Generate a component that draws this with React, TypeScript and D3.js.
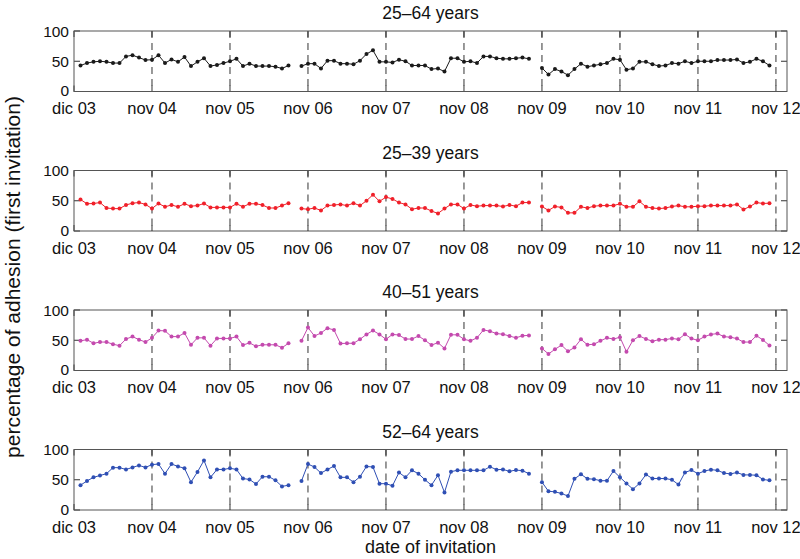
import React, { useEffect, useRef } from "react";
import * as d3 from "d3";

// month index: 0 = "dic 03" tick, data start at index 1; gaps (null) at 34 and 71
const tickLabels = ["dic 03", "nov 04", "nov 05", "nov 06", "nov 07", "nov 08", "nov 09", "nov 10", "nov 11", "nov 12"];
const tickIndex = [0, 12, 24, 36, 48, 60, 72, 84, 96, 108];
const dashedIndex = [12, 24, 36, 48, 60, 72, 84, 96, 108];
const yTicks = [0, 50, 100];

const titles = ["25\u201364 years", "25\u201339 years", "40\u201351 years", "52\u201364 years"];
const colors = ["#1a1a1a", "#f0202a", "#c44aae", "#2f4fb4"];

const seg = (a: number[], b: number[], c: number[]) => [...a, null, ...b, null, ...c];

const s1 = seg(
  [43, 47, 49, 50, 49, 47, 47, 58, 60, 56, 52, 52.5, 60, 47, 53, 49, 57, 42, 49, 55, 42, 44, 47, 50, 54, 42, 46, 42, 42, 42, 41, 38, 43],
  [42, 46, 46, 38, 51, 51, 46, 46, 45, 51, 62, 68, 49, 49, 48, 52.5, 50, 43, 43, 43, 37, 38, 33, 55, 55, 49, 50, 47, 58, 58, 55, 54, 54, 55, 56, 54],
  [39, 28, 37, 33, 27, 37, 46, 41, 43, 45, 47, 54, 52.5, 36, 38, 49, 49, 45, 42, 43, 47, 46, 50, 47, 50, 50, 50, 52, 52, 52, 53, 47, 49, 54, 50, 43]
);
const s2 = seg(
  [52, 45, 45.5, 47, 38, 37, 37, 43, 46, 47, 44, 37, 45.5, 40, 43, 40, 45, 41, 42, 45.5, 39, 39, 39, 39, 45, 40, 45, 45, 43, 38, 38, 42, 46],
  [37, 36, 38, 34, 42, 43, 44, 42, 46, 42, 50, 60, 49, 56, 53, 47, 44, 36, 38, 38, 33, 29, 37, 44, 44, 37, 43, 41, 42, 42, 42, 40.5, 43, 41, 47, 47],
  [40.5, 34, 40.5, 39, 30, 30, 40, 38, 41, 42, 42, 42, 45, 40, 40, 49, 40, 38, 37, 38, 40.5, 42, 40, 40, 41, 41, 42, 42, 42, 42, 44, 35.5, 40.5, 47, 45.5, 46]
);
const s3 = seg(
  [49, 51, 45, 47, 47, 43.5, 41, 52, 56, 51, 47, 54, 66, 65.5, 56, 56, 62, 42.5, 54, 54, 41, 53, 53, 53, 56, 42, 45.7, 40, 42.5, 42.5, 42.5, 37.6, 45],
  [49, 71, 57, 62, 70, 67, 44.6, 45, 45, 51.6, 59.7, 66, 59.7, 51.6, 59.7, 58.6, 52, 52, 57, 50, 42, 46, 36.5, 59, 59, 51.6, 49, 54, 67, 65, 61, 60, 57, 54, 57.5, 58],
  [36.5, 27.4, 35, 42, 31.7, 38, 51.6, 42.5, 43.5, 49, 54, 52, 55, 31, 50, 57, 52, 48.4, 51, 51, 53, 51.6, 60, 52.7, 50, 56, 59.7, 61, 56, 55, 52.7, 47, 47, 57.5, 50.5, 41.4]
);
const s4 = seg(
  [41, 48, 54, 57, 60, 70, 70, 67, 70.4, 73.7, 70.4, 75, 76, 60, 76, 72, 69, 46, 63, 82, 54, 67, 67, 69, 67, 52, 50.5, 43, 55, 55, 49, 39, 41],
  [48, 76, 71, 61, 67, 72.6, 54, 54, 46, 55, 72, 71, 43.5, 43.5, 40, 62, 54, 65.6, 60, 50, 41, 57.5, 29, 63.4, 65.6, 65.6, 65.6, 65.6, 65.6, 71.5, 66.7, 67, 64, 66, 65, 60],
  [46, 31, 30, 27.4, 23, 51.6, 59, 51.6, 51, 48.4, 48.4, 64.5, 54, 44, 34.4, 44, 58.6, 52, 52, 52, 50, 42, 62, 66, 60, 64.5, 66.7, 65.6, 61, 59.7, 62, 58, 58, 57.5, 50.5, 49]
);
const seriesList = [s1, s2, s3, s4];

const W = 800;
const H = 559;
const left = 74;
const right = 787;
const panelTops = [31, 170.5, 310, 449.5];
const panelH = 60.5;
const FONT = "'Liberation Sans', Arial, Helvetica, sans-serif";

export default function App() {
  const ref = useRef<SVGSVGElement>(null);
  useEffect(() => {
    const svg = d3.select(ref.current);
    svg.selectAll("*").remove();
    const x = d3.scaleLinear().domain([0, 109.7]).range([left, right]);

    seriesList.forEach((data, p) => {
      const top = panelTops[p];
      const y = d3.scaleLinear().domain([0, 100]).range([top + panelH, top]);
      const g = svg.append("g");

      g.selectAll("line.dash")
        .data(dashedIndex)
        .enter()
        .append("line")
        .attr("x1", (d) => x(d))
        .attr("x2", (d) => x(d))
        .attr("y1", top)
        .attr("y2", top + panelH)
        .attr("stroke", "#333")
        .attr("stroke-width", 1)
        .attr("stroke-dasharray", "7,5");

      tickIndex.forEach((t) => {
        g.append("line").attr("x1", x(t)).attr("x2", x(t)).attr("y1", top + panelH).attr("y2", top + panelH - 6).attr("stroke", "#333");
        g.append("line").attr("x1", x(t)).attr("x2", x(t)).attr("y1", top).attr("y2", top + 6).attr("stroke", "#333");
      });
      yTicks.forEach((t) => {
        g.append("line").attr("x1", left).attr("x2", left + 6).attr("y1", y(t)).attr("y2", y(t)).attr("stroke", "#333");
        g.append("line").attr("x1", right).attr("x2", right - 6).attr("y1", y(t)).attr("y2", y(t)).attr("stroke", "#333");
        g.append("text")
          .attr("x", left - 5)
          .attr("y", y(t))
          .attr("dy", t === 0 ? "0.3em" : "0.36em")
          .attr("text-anchor", "end")
          .attr("font-family", FONT)
          .attr("font-size", 15.5)
          .attr("fill", "#111")
          .text(String(t));
      });

      g.append("rect")
        .attr("x", left)
        .attr("y", top)
        .attr("width", right - left)
        .attr("height", panelH)
        .attr("fill", "none")
        .attr("stroke", "#555")
        .attr("stroke-width", 1);

      g.selectAll("text.xl")
        .data(tickIndex)
        .enter()
        .append("text")
        .attr("x", (d) => x(d))
        .attr("y", top + panelH + 22.5)
        .attr("text-anchor", "middle")
        .attr("font-family", FONT)
        .attr("font-size", 16.5)
        .attr("fill", "#111")
        .text((d, i) => tickLabels[i]);

      g.append("text")
        .attr("x", (left + right) / 2)
        .attr("y", top - 12)
        .attr("text-anchor", "middle")
        .attr("font-family", FONT)
        .attr("font-size", 17.5)
        .attr("fill", "#111")
        .text(titles[p]);

      const pts = data.map((v, i) => ({ i: i + 1, v }));
      const line = d3
        .line<{ i: number; v: number | null }>()
        .defined((d) => d.v !== null)
        .x((d) => x(d.i))
        .y((d) => y(d.v as number));
      g.append("path")
        .attr("d", line(pts))
        .attr("fill", "none")
        .attr("stroke", colors[p])
        .attr("stroke-width", 1);
      g.selectAll("circle")
        .data(pts.filter((d) => d.v !== null))
        .enter()
        .append("circle")
        .attr("cx", (d) => x(d.i))
        .attr("cy", (d) => y(d.v as number))
        .attr("r", 2)
        .attr("fill", colors[p]);
    });

    svg
      .append("text")
      .attr("x", (left + right) / 2)
      .attr("y", 553)
      .attr("text-anchor", "middle")
      .attr("font-family", FONT)
      .attr("font-size", 18)
      .attr("fill", "#111")
      .text("date of invitation");

    svg
      .append("text")
      .attr("transform", `translate(20, 277) rotate(-90)`)
      .attr("text-anchor", "middle")
      .attr("font-family", FONT)
      .attr("font-size", 21)
      .attr("fill", "#111")
      .text("percentage of adhesion (first invitation)");
  }, []);
  return (
    <svg
      ref={ref}
      width={W}
      height={H}
      style={{ position: "absolute", left: 0, top: 0, background: "#fff" }}
    />
  );
}
